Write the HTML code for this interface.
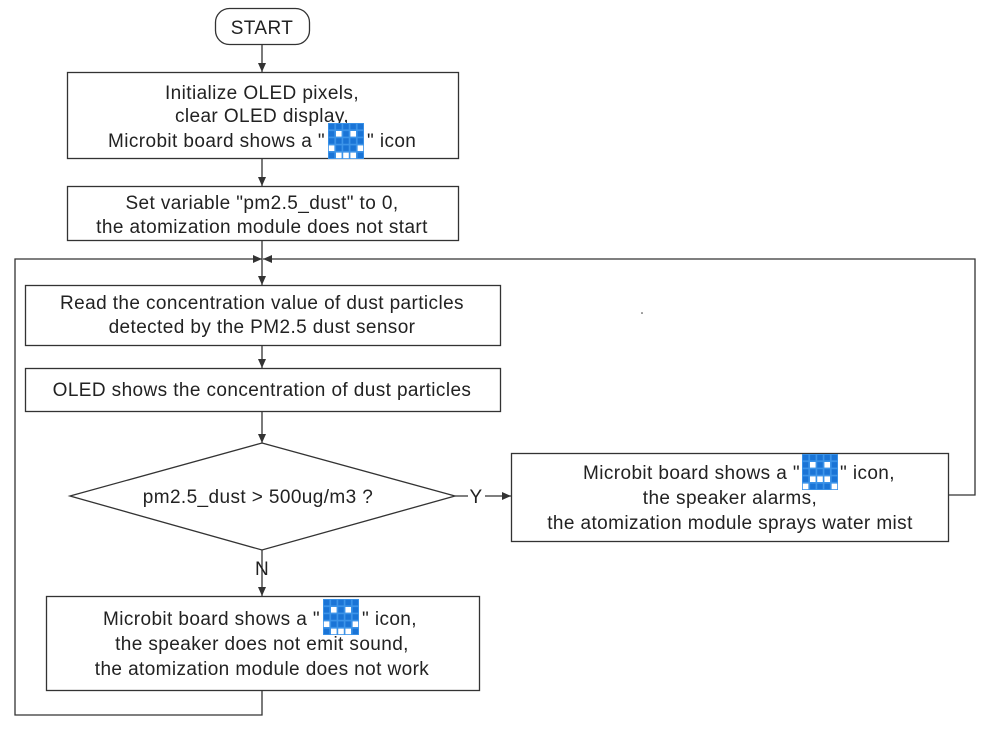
<!DOCTYPE html>
<html><head><style>body{margin:0;background:#fff}text{font-family:"Liberation Sans",sans-serif;font-size:19px;fill:#222;letter-spacing:0.4px}</style></head><body>
<svg width="986" height="732" xmlns="http://www.w3.org/2000/svg">
<defs>
<marker id="a" markerWidth="10" markerHeight="10" refX="9" refY="5" orient="auto" markerUnits="userSpaceOnUse"><path d="M0,1 L9,5 L0,9 z" fill="#333"/></marker>
<pattern id="g" width="7.2" height="7.2" patternUnits="userSpaceOnUse"><rect width="7.2" height="7.2" fill="#3d95ea"/><rect x="0.8" y="0.8" width="5.6" height="5.6" fill="#1a74d6"/></pattern>
<g id="smile"><rect width="36" height="36" fill="url(#g)"/><g fill="#fff"><rect x="8" y="8" width="5.6" height="5.6"/><rect x="22.4" y="8" width="5.6" height="5.6"/><rect x="0.8" y="22.4" width="5.6" height="5.6"/><rect x="29.6" y="22.4" width="5.6" height="5.6"/><rect x="8" y="29.6" width="5.6" height="5.6"/><rect x="15.2" y="29.6" width="5.6" height="5.6"/><rect x="22.4" y="29.6" width="5.6" height="5.6"/></g></g>
<g id="sad"><rect width="36" height="36" fill="url(#g)"/><g fill="#fff"><rect x="8" y="8" width="5.6" height="5.6"/><rect x="22.4" y="8" width="5.6" height="5.6"/><rect x="8" y="22.4" width="5.6" height="5.6"/><rect x="15.2" y="22.4" width="5.6" height="5.6"/><rect x="22.4" y="22.4" width="5.6" height="5.6"/><rect x="0.8" y="29.6" width="5.6" height="5.6"/><rect x="29.6" y="29.6" width="5.6" height="5.6"/></g></g>
</defs>
<g fill="none" stroke="#333" stroke-width="1.3">
<rect x="215.5" y="8.5" width="94" height="36" rx="14" fill="#fff"/>
<rect x="67.5" y="72.5" width="391" height="86"/>
<rect x="67.5" y="186.5" width="391" height="54"/>
<rect x="25.5" y="285.5" width="475" height="60"/>
<rect x="25.5" y="368.5" width="475" height="43"/>
<path d="M262,443 L455,496 L262,550 L70,496 Z"/>
<rect x="511.5" y="453.5" width="437" height="88"/>
<rect x="46.5" y="596.5" width="433" height="94"/>
<path d="M262,44 V72" marker-end="url(#a)"/>
<path d="M262,158 V186" marker-end="url(#a)"/>
<path d="M262,240 V285" marker-end="url(#a)"/>
<path d="M262,345 V368" marker-end="url(#a)"/>
<path d="M262,411 V443" marker-end="url(#a)"/>
<path d="M262,550 V596" marker-end="url(#a)"/>
<path d="M455,496 H468 M485,496 H511" marker-end="url(#a)"/>
<path d="M262,690 V715 H15 V259 H262" marker-end="url(#a)"/>
<path d="M948,495 H975 V259 H263" marker-end="url(#a)"/>
</g>
<text x="262" y="34" text-anchor="middle">START</text>
<g text-anchor="middle">
<text x="262" y="99">Initialize OLED pixels,</text>
<text x="262" y="122">clear OLED display,</text>
<text x="262" y="209">Set variable "pm2.5_dust" to 0,</text>
<text x="262" y="233">the atomization module does not start</text>
<text x="262" y="309">Read the concentration value of dust particles</text>
<text x="262" y="333">detected by the PM2.5 dust sensor</text>
<text x="262" y="396">OLED shows the concentration of dust particles</text>
<text x="258" y="503">pm2.5_dust &gt; 500ug/m3 ?</text>
<text x="476" y="503">Y</text>
<text x="262" y="575">N</text>
<text x="730" y="504">the speaker alarms,</text>
<text x="730" y="529">the atomization module sprays water mist</text>
<text x="262" y="650">the speaker does not emit sound,</text>
<text x="262" y="675">the atomization module does not work</text>
</g>
<text x="325" y="147" text-anchor="end">Microbit board shows a "</text>
<text x="367" y="147">" icon</text>
<text x="800" y="479" text-anchor="end">Microbit board shows a "</text>
<text x="840" y="479">" icon,</text>
<text x="320" y="625" text-anchor="end">Microbit board shows a "</text>
<text x="362" y="625">" icon,</text>
<use href="#smile" x="328" y="123"/>
<use href="#sad" x="802" y="454"/>
<use href="#smile" x="323" y="599"/>
<circle cx="642" cy="313" r="0.8" fill="#333"/>
</svg>
</body></html>
